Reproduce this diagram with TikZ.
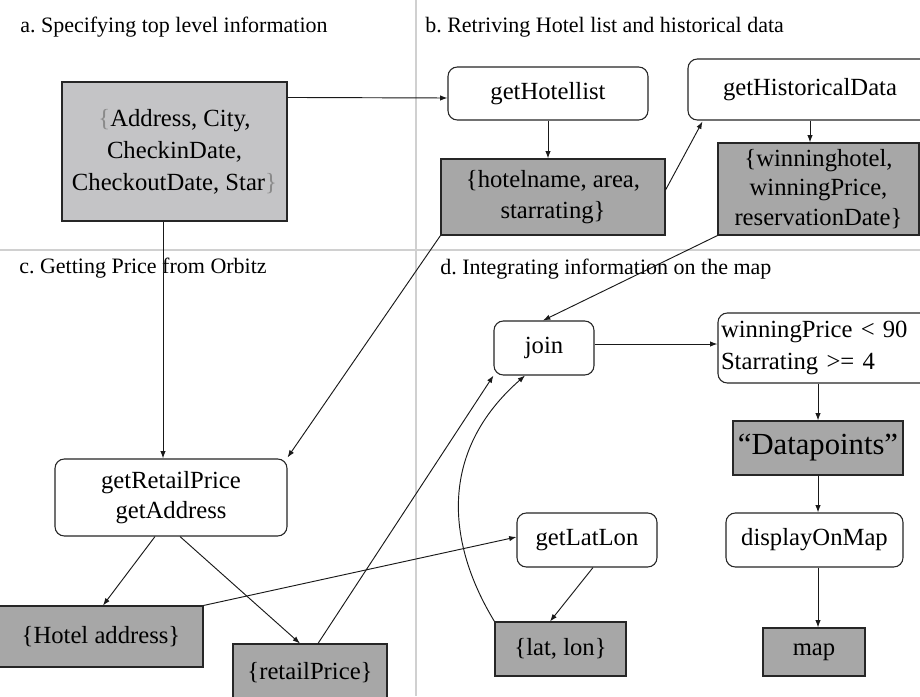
\documentclass[tikz,border=0pt]{standalone}
\usepackage{fontspec}
\setmainfont{Liberation Serif}
\usetikzlibrary{arrows.meta,calc}
\definecolor{lightbox}{HTML}{C4C4C6}
\definecolor{darkbox}{HTML}{A7A7A7}
\definecolor{divider}{HTML}{D0D0D0}
\definecolor{bracegray}{HTML}{8A8A8A}
\frenchspacing
\tikzset{
  px/.style={x=0.75pt,y=-0.75pt},
  proc/.style={draw=black!85,line width=0.8pt,rounded corners=7pt,fill=white,inner sep=0pt,align=center,font=\fontsize{18.5}{23}\selectfont},
  datalight/.style={draw=black!85,line width=0.8pt,fill=lightbox,inner sep=0pt,align=center,font=\fontsize{18.5}{24}\selectfont},
  datadark/.style={draw=black!85,line width=0.8pt,fill=darkbox,inner sep=0pt,align=center,font=\fontsize{18.5}{23}\selectfont},
  arr/.style={-{Latex[length=5.5pt,width=4pt]},line width=0.7pt,black!90},
  ttl/.style={anchor=base west,inner sep=0pt,font=\fontsize{16.5}{20}\selectfont},
  divline/.style={draw=divider,line width=0.8pt}
}
\begin{document}
\begin{tikzpicture}[px]
\useasboundingbox (0,0) rectangle (920,696);
\fill[white] (0,0) rectangle (920,696);
% dividers
\draw[divline] (416,0) -- (416,696);
\draw[divline] (0,250) -- (920,250);
% titles
\node[ttl] (ta) at (20,32) {a. Specifying top level information};
\node[ttl] (tb) at (425,32) {b. Retriving Hotel list and historical data};
\node[ttl] (tc) at (19,273) {c. Getting Price from Orbitz};
\node[ttl] (td) at (440,274) {d. Integrating information on the map};
% nodes
\node[datalight,minimum width=225*0.75pt,minimum height=139*0.75pt] (A) at (174.5,151.5)
  {{\color{bracegray}\{}Address, City,\\ CheckinDate,\\ CheckoutDate, Star{\color{bracegray}\}}};
\node[proc,minimum width=200*0.75pt,minimum height=53*0.75pt] (gHL) at (548,93.5) {getHotellist};
\node[proc,minimum width=244*0.75pt,minimum height=61*0.75pt] (gHD) at (810,89.5) {getHistoricalData};
\node[datadark,minimum width=224*0.75pt,minimum height=76*0.75pt] (hn) at (553,197) {\{hotelname, area,\\ starrating\}};
\node[datadark,minimum width=201*0.75pt,minimum height=92*0.75pt,font=\fontsize{18.5}{22}\selectfont] (win) at (818.5,189) {\{winninghotel,\\ winningPrice,\\ reservationDate\}};
\node[proc,minimum width=232*0.75pt,minimum height=77*0.75pt] (gRP) at (171,497.5) {getRetailPrice\\ getAddress};
\node[datadark,minimum width=204*0.75pt,minimum height=61*0.75pt] (ha) at (101,636.5) {\{Hotel address\}};
\node[datadark,minimum width=154*0.75pt,minimum height=58*0.75pt] (rp) at (310,673) {\{retailPrice\}};
\node[proc,minimum width=100*0.75pt,minimum height=54*0.75pt] (join) at (544,348) {join};
\node[proc,minimum width=214*0.75pt,minimum height=70*0.75pt,text width=208*0.75pt,align=left,font=\fontsize{18.5}{24}\selectfont] (filt) at (825,348) {winningPrice < 90\\ Starrating >= 4};
\node[datadark,minimum width=170*0.75pt,minimum height=54*0.75pt,font=\fontsize{23}{26}\selectfont] (dp) at (818,448) {“Datapoints”};
\node[proc,minimum width=177*0.75pt,minimum height=54*0.75pt] (dom) at (814.5,540) {displayOnMap};
\node[proc,minimum width=140*0.75pt,minimum height=54*0.75pt] (gLL) at (587,540) {getLatLon};
\node[datadark,minimum width=131*0.75pt,minimum height=54*0.75pt] (ll) at (560.5,649) {\{lat, lon\}};
\node[datadark,minimum width=102*0.75pt,minimum height=48*0.75pt] (map) at (814,652) {map};
% connectors
\draw[arr] ($(A.north east)+(0,16)$) -- ($(gHL.west)+(0,4.5)$);
\draw[arr] (gHL.south) -- (gHL.south |- hn.north);
\draw[arr] ($(hn.east)+(0,-7)$) -- ($(gHD.south west)+(15,1)$);
\draw[arr] (gHD.south) -- (gHD.south |- win.north);
\draw[arr] (hn.south west) -- ($(gRP.north east)+(0,-1)$);
\draw[arr] (win.south west) -- ($(join.north)+(-1,0)$);
\coordinate (Abot) at ($(A.south)+(-11.5,0)$);
\draw[arr] (Abot) -- (Abot |- gRP.north);
\draw[arr] ($(gRP.south)+(-16,0)$) -- ($(ha.north)+(2,0)$);
\draw[arr] ($(gRP.south)+(9,0)$) -- ($(rp.north)+(-10,0)$);
\draw[arr] (ha.north east) -- ($(gLL.west)+(0,-3)$);
\draw[arr] ($(rp.north)+(8,0)$) -- (join.south west);
\draw[arr] (ll.north west) .. controls (445,540) and (440,450) .. ($(join.south)+(-19,0)$);
\draw[arr] ($(gLL.south)+(6,0)$) -- ($(ll.north)+(-10.5,0)$);
\coordinate (jE) at ($(join.east)+(0,-4)$);
\draw[arr] (jE) -- (jE -| filt.west);
\draw[arr] (dp.north |- filt.south) -- (dp.north);
\draw[arr] (dp.south) -- (dp.south |- dom.north);
\draw[arr] (dp.south |- dom.south) -- (dp.south |- map.north);
\end{tikzpicture}
\end{document}
